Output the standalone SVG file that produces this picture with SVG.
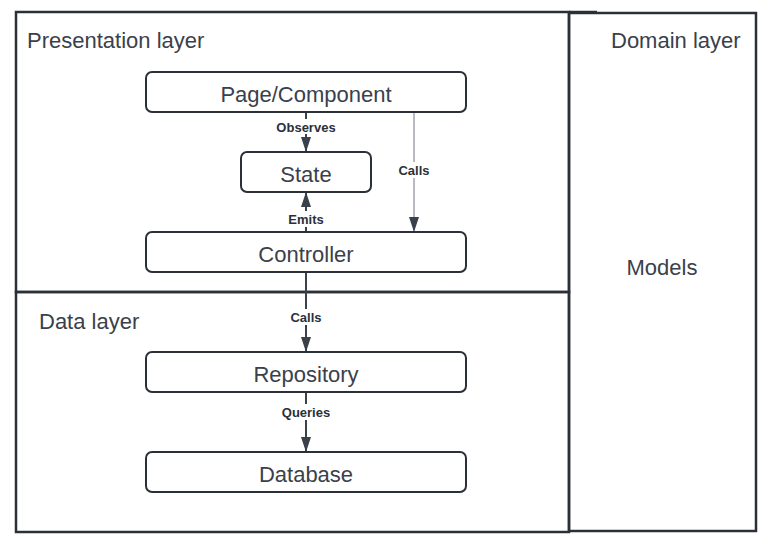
<svg xmlns="http://www.w3.org/2000/svg" width="775" height="547" viewBox="0 0 775 547">
<style>
.frame{fill:none;stroke:#2b3038;stroke-width:2.5}
.node{fill:#fff;stroke:#2b3038;stroke-width:2}
.lt{font-family:"Liberation Sans",Arial,sans-serif;font-size:22px;fill:#3a414a}
.nt{font-family:"Liberation Sans",Arial,sans-serif;font-size:22px;fill:#3a414a;text-anchor:middle;dominant-baseline:central}
.el{font-family:"Liberation Sans",Arial,sans-serif;font-size:13px;font-weight:bold;fill:#2b3038;text-anchor:middle;dominant-baseline:central}
.c{stroke:#3a414a;stroke-width:2;fill:none}
.ct{stroke:#707782;stroke-width:1;fill:none}
.bg{fill:#fff}
</style>
<defs>
<marker id="ah" viewBox="0 0 15 10" refX="15" refY="5" markerWidth="15" markerHeight="10" markerUnits="userSpaceOnUse" orient="auto">
<path d="M0,0 L15,5 L0,10 z" fill="#3a414a"/>
</marker>
</defs>
<rect width="775" height="547" fill="#fff"/>
<g id="presentation-layer">
<rect class="frame" x="16" y="12" width="553" height="280"/>
<line class="frame" x1="569" y1="12" x2="597" y2="12"/>
<text class="lt" x="27" y="48">Presentation layer</text>
</g>
<g id="data-layer">
<rect class="frame" x="16" y="292" width="553" height="240"/>
<text class="lt" x="39" y="329">Data layer</text>
</g>
<g id="domain-layer">
<rect class="frame" x="569" y="13" width="187" height="518"/>
<text class="lt" x="611" y="48">Domain layer</text>
<text class="nt" x="662" y="267">Models</text>
</g>
<g id="connectors">
<line class="c" x1="306" y1="112" x2="306" y2="152" marker-end="url(#ah)"/>
<rect class="bg" x="274" y="119" width="64" height="15"/>
<text class="el" x="306" y="127">Observes</text>
<line class="ct" x1="414" y1="112" x2="414" y2="232" marker-end="url(#ah)"/>
<rect class="bg" x="396" y="162" width="36" height="16"/>
<text class="el" x="414" y="170">Calls</text>
<line class="c" x1="306" y1="232" x2="306" y2="192" marker-end="url(#ah)"/>
<rect class="bg" x="285" y="211" width="42" height="16"/>
<text class="el" x="306" y="219">Emits</text>
<line class="c" x1="306" y1="272" x2="306" y2="352" marker-end="url(#ah)"/>
<rect class="bg" x="288" y="309" width="36" height="16"/>
<text class="el" x="306" y="317">Calls</text>
<line class="c" x1="306" y1="392" x2="306" y2="452" marker-end="url(#ah)"/>
<rect class="bg" x="280" y="404" width="52" height="16"/>
<text class="el" x="306" y="412">Queries</text>
</g>
<g id="page-component">
<rect class="node" x="146" y="72" width="320" height="40" rx="6"/>
<text class="nt" x="306" y="94">Page/Component</text>
</g>
<g id="state">
<rect class="node" x="241" y="152" width="130" height="40" rx="6"/>
<text class="nt" x="306" y="174">State</text>
</g>
<g id="controller">
<rect class="node" x="146" y="232" width="320" height="40" rx="6"/>
<text class="nt" x="306" y="254">Controller</text>
</g>
<g id="repository">
<rect class="node" x="146" y="352" width="320" height="40" rx="6"/>
<text class="nt" x="306" y="374">Repository</text>
</g>
<g id="database">
<rect class="node" x="146" y="452" width="320" height="40" rx="6"/>
<text class="nt" x="306" y="474">Database</text>
</g>
</svg>
